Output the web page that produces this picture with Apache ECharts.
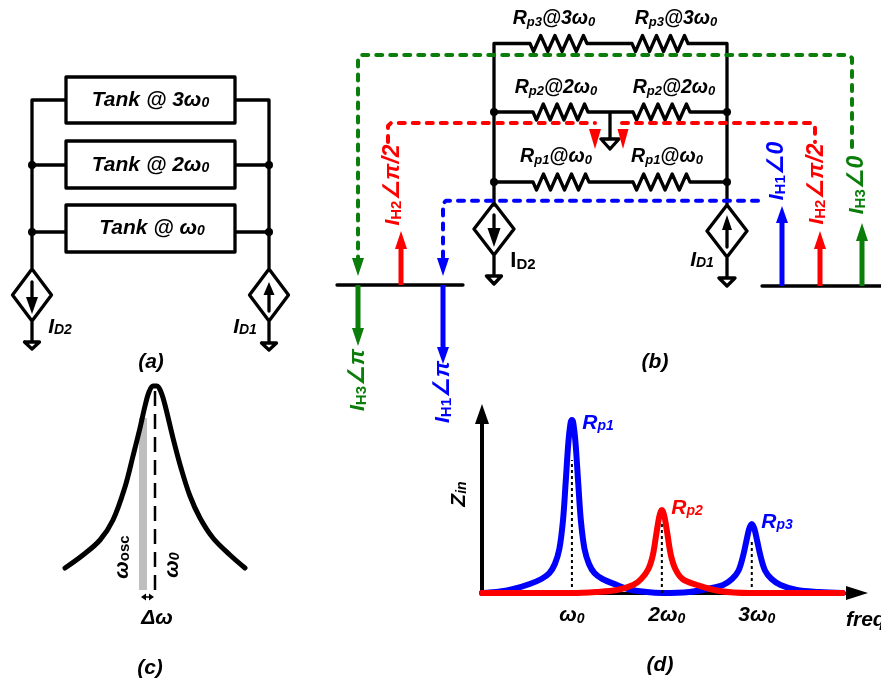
<!DOCTYPE html>
<html><head><meta charset="utf-8">
<style>html,body{margin:0;padding:0;background:#fff}#c{width:881px;height:681px}</style>
<script src="https://cdn.jsdelivr.net/npm/echarts@6/dist/echarts.min.js"></script></head>
<body><div id="c"></div>
<script>
// ---- panel (d): impedance curves [freq/omega0, Zin]
const rp1Rp3Curve=[[0,0],[0.2,1.5],[0.35,4],[0.53,9],[0.66,14],[0.75,20],[0.81,29],[0.86,44],[0.90,72],[0.93,110],[0.96,150],[0.985,170],[1,173],[1.015,170],[1.04,150],[1.07,110],[1.10,72],[1.14,44],[1.19,29],[1.25,20],[1.34,14],[1.50,8],[1.64,3.5],[1.83,1],[2,0],[2.31,1],[2.50,4],[2.68,8],[2.78,14],[2.85,22],[2.90,36],[2.94,52],[2.97,64],[2.99,68],[3,69],[3.01,68],[3.03,64],[3.06,52],[3.10,36],[3.15,22],[3.22,14],[3.32,8],[3.50,3],[3.75,1],[4.01,0]];
const rp2Curve=[[0,0],[1.0,0],[1.27,1],[1.50,3],[1.68,8],[1.77,14],[1.85,24],[1.90,38],[1.94,60],[1.97,76],[1.99,82],[2,83],[2.01,82],[2.03,76],[2.06,60],[2.10,38],[2.15,24],[2.23,14],[2.39,8],[2.64,2],[2.98,0],[4.01,0]];
const harmonicTicks=[1,2,3];
const harmonicLabels=['{m|ω}{s|0}','{g|2ω}{s|0}','{g|3ω}{s|0}'];
const peakDrops=[[1,133],[2,69],[3,52]];
// ---- panel (c): resonance curve [offset from omega0, magnitude]
const tankCurve=[[-90,0],[-72,13],[-55,28],[-42,48],[-30,81],[-22,112],[-15,140],[-10,162],[-6,176],[-2,182],[2,182],[6,176],[10,163],[18,130],[26,100],[35,72],[45,50],[58,30],[75,13],[90,0]];
const omegaOsc=-12, omega0=0;

// ---- schematic geometry (in schematic units)
function resistor(x0,x1,y){const s=(x1-x0)/8,p=[];for(let i=0;i<8;i++)p.push([x0+(i+.5)*s,y+(i%2?-8:8)]);return p;}
function rwire(xa,x0,x1,xb,y){return [[xa,y],[x0,y],...resistor(x0,x1,y),[x1,y],[xb,y]];}
function diamond(cx,t,b,hw){const m=(t+b)/2;return [[cx,t],[cx+hw,m],[cx,b],[cx-hw,m],[cx,t]];}
function ground(cx,t,b,hw){return [[cx-hw,t],[cx+hw,t],[cx,b],[cx-hw,t]];}
function head(cx,tip,base,hw){return [[cx,tip],[cx+hw,base],[cx-hw,base]];}
function box(x0,y0,x1,y1){return [[x0,y0],[x1,y0],[x1,y1],[x0,y1],[x0,y0]];}

const tankWires=[box(66,77,235,123),box(66,141,235,188),box(66,205,235,252),
 [[66,100],[32,100],[32,269]],[[235,100],[269,100],[269,269]],
 [[32,165],[66,165]],[[235,165],[269,165]],[[32,232],[66,232]],[[235,232],[269,232]],
 diamond(32,269,321,19.5),diamond(269,269,321,19.5),
 [[32,321],[32,342]],[[269,321],[269,343]],ground(32,342,349,7.5),ground(269,343,350,7.5),
 [[32,282],[32,300]],[[269,292],[269,311]]];
const rpWires=[
 [[494,205],[494,43.5],[530,43.5],...resistor(530,587,43.5),[587,43.5],[632,43.5],...resistor(632,688,43.5),[688,43.5],[727,43.5],[727,205]],
 rwire(494,533,588,633,112),rwire(633,633,690,727,112),
 rwire(494,533,589,633,182),rwire(633,633,690,727,182),
 diamond(494,203,255,20),diamond(727,205,257,20),
 [[494,255],[494,276]],[[727,257],[727,278]],ground(494,276,284,7.5),ground(727,278,286,8),
 [[494,215],[494,232]],[[727,228],[727,247]],
 [[610,112],[610,139]],ground(610,139,149,9),
 [[337,285],[463,285]],[[762,286],[881,286]]];
const deltaSpan=[[[144,597],[151,597]]];
const junctions=[[32,165],[32,232],[269,165],[269,232],[494,112],[494,182],[727,112],[727,182]];
const blackHeads=[head(32,314,297,6),head(269,282,295,5.5),head(494,247,228,6.5),head(727,215,230,5),
 [[141,597],[146,593.5],[146,600.5]],[[154,597],[149,593.5],[149,600.5]]];
const greenDash=[[[852,147],[852,58],[849,55],[361,55],[358,58],[358,258]]];
const redDash=[[[388,142],[388,126],[391,123],[595,123]],[[622,123],[812,123],[815,126],[815,142]]];
const blueDash=[[[758,200.7],[446,200.7],[443,203.7],[443,258]]];
const greenStems=[[[358,285],[358,330]],[[862,286],[862,240]]];
const redStems=[[[401,285],[401,247]],[[820,286],[820,247]]];
const blueStems=[[[443,285],[443,349]],[[782,286],[782,222]]];
const greenHeads=[head(358,276,258,6),head(358,346,328,6),head(862,223,241,6)];
const redHeads=[head(401,231,249,6),head(820,231,249,6),head(595,149,129,6),head(623,149,129,5.5)];
const blueHeads=[head(443,276,258,6),head(443,364,347,6),head(782,206,223,6)];

// ---- text
const K='#000',G='#0a7d0a',R='#ff0000',B='#0000ff';
const annotations=[
 [150.5,100,'{m|Tank @ 3ω}{s|0}',0,K],[150.5,165,'{m|Tank @ 2ω}{s|0}',0,K],[152,228,'{m|Tank @ ω}{s|0}',0,K],
 [60,327,'{m|I}{s|D2}',0,K],[245,327,'{m|I}{s|D1}',0,K],[151,362,'{c|(a)}',0,K],
 [554,19,'{n|R}{t|p3}{n|@3ω}{t|0}',0,K],[676,19,'{n|R}{t|p3}{n|@3ω}{t|0}',0,K],
 [556,88,'{n|R}{t|p2}{n|@2ω}{t|0}',0,K],[674,88,'{n|R}{t|p2}{n|@2ω}{t|0}',0,K],
 [556,157,'{n|R}{t|p1}{n|@ω}{t|0}',0,K],[667,157,'{n|R}{t|p1}{n|@ω}{t|0}',0,K],
 [523,261,'{u|I}{us|D2}',0,K],[702,260,'{m|I}{s|D1}',0,K],[655,362,'{c|(b)}',0,K],
 [358,380,'{m|I}{h|H3}{a|∠π}',90,G],[443,392,'{m|I}{h|H1}{a|∠π}',90,B],
 [393,185,'{m|I}{h|H2}{a|∠π/2}',90,R],[777,171,'{m|I}{h|H1}{a|∠0}',90,B],
 [817,184,'{m|I}{h|H2}{a|∠π/2}',90,R],[857,185,'{m|I}{h|H3}{a|∠0}',90,G],
 [122,557,'{m|ω}{h|osc}',90,K],[172,565,'{m|ω}{s|0}',90,K],[157,618,'{m|Δω}',0,K],[150,668,'{c|(c)}',0,K],
 [459,494,'{m|Z}{s|in}',90,K],[598,423,'{m|R}{s|p1}',0,B],[687,508,'{m|R}{s|p2}',0,R],[777,522,'{m|R}{s|p3}',0,B],
 [846,620,'{f|freq}',0,K,'left'],[660,665,'{c|(d)}',0,K]];

const F='"Liberation Sans","DejaVu Sans",sans-serif';
const st=(size,extra)=>Object.assign({fontFamily:F,fontWeight:'bold',fontStyle:'italic',fontSize:size,color:'#000'},extra||{});
const rich={m:st(21),g:st(21,{padding:[0,0,0,10]}),s:st(14,{verticalAlign:'bottom'}),n:st(19.5),t:st(13,{verticalAlign:'bottom'}),
 h:st(15,{verticalAlign:'bottom',fontStyle:'normal'}),a:st(23),c:st(21),f:st(21),
 u:st(22,{fontStyle:'normal'}),us:st(15,{fontStyle:'normal',verticalAlign:'bottom'})};

function flat(paths){const d=[];paths.forEach((p,i)=>{if(i)d.push([null,null]);p.forEach(q=>d.push(q));});return d;}
function lines(name,paths,color,width,extra){return {name,type:'line',xAxisIndex:0,yAxisIndex:0,data:flat(paths),showSymbol:false,symbol:'none',silent:true,clip:false,
 lineStyle:Object.assign({color,width,join:'round',cap:'round'},extra||{})};}
function fills(name,polys,color){return {name,type:'custom',xAxisIndex:0,yAxisIndex:0,silent:true,clip:false,z:4,data:polys.map((_,i)=>[i,i]),
 renderItem:(p,api)=>({type:'polygon',shape:{points:polys[p.dataIndex].map(q=>api.coord(q))},style:{fill:color}})};}
function dash(name,paths,color){return Object.assign(lines(name,paths,color,4,{type:[6,8]}),{z:3});}

const option={animation:false,backgroundColor:'#fff',
 grid:[{left:0,top:0,width:881,height:681},{left:482,top:414,width:375,height:179},{left:65,top:384,width:180,height:206}],
 xAxis:[{gridIndex:0,type:'value',min:0,max:881,show:false},
  {gridIndex:1,type:'value',min:0,max:4.17,splitLine:{show:false},axisTick:{show:false},
   axisLine:{show:true,onZero:false,symbol:['none','triangle'],symbolSize:[14,22],lineStyle:{color:'#000',width:3}},
   axisLabel:{customValues:harmonicTicks,margin:12,color:'#000',formatter:v=>harmonicLabels[harmonicTicks.indexOf(v)]||'',rich:rich}},
  {gridIndex:2,type:'value',min:-90,max:90,show:false}],
 yAxis:[{gridIndex:0,type:'value',min:0,max:681,inverse:true,show:false},
  {gridIndex:1,type:'value',min:0,max:179,splitLine:{show:false},axisTick:{show:false},axisLabel:{show:false},
   axisLine:{show:true,onZero:false,symbol:['none','triangle'],symbolSize:[14,20],lineStyle:{color:'#000',width:4}}},
  {gridIndex:2,type:'value',min:-22,max:184,show:false}],
 series:[
  lines('tank wires',tankWires,'#000',3.3),
  lines('rp wires',rpWires,'#000',3.3),
  lines('delta span',deltaSpan,'#000',1.5),
  {name:'junctions',type:'scatter',xAxisIndex:0,yAxisIndex:0,silent:true,symbolSize:8,itemStyle:{color:'#000',opacity:1},data:junctions},
  fills('black heads',blackHeads,'#000'),
  lines('green stems',greenStems,G,5,{cap:'butt'}),lines('red stems',redStems,R,5,{cap:'butt'}),lines('blue stems',blueStems,B,5,{cap:'butt'}),
  dash('green feedback',greenDash,G),dash('red feedback',redDash,R),dash('blue feedback',blueDash,B),
  fills('green heads',greenHeads,G),fills('red heads',redHeads,R),fills('blue heads',blueHeads,B),
  {name:'Rp1/Rp3',type:'line',xAxisIndex:1,yAxisIndex:1,data:rp1Rp3Curve,symbol:'none',smooth:0.35,silent:true,clip:false,z:3,lineStyle:{color:B,width:6,join:'round',cap:'round'}},
  {name:'peak drops',type:'line',xAxisIndex:1,yAxisIndex:1,symbol:'none',silent:true,clip:false,z:4,
   data:flat(peakDrops.map(d=>[[d[0],0],[d[0],d[1]]])),lineStyle:{color:'#000',width:2,type:[3,3]}},
  {name:'Rp2',type:'line',xAxisIndex:1,yAxisIndex:1,data:rp2Curve,symbol:'none',smooth:0.35,silent:true,clip:false,z:5,lineStyle:{color:R,width:6,join:'round',cap:'round'}},
  {name:'omega osc',type:'line',xAxisIndex:2,yAxisIndex:2,data:[[omegaOsc,-22],[omegaOsc,150]],symbol:'none',silent:true,clip:false,z:2,lineStyle:{color:'#bfbfbf',width:8,cap:'butt'}},
  {name:'omega 0',type:'line',xAxisIndex:2,yAxisIndex:2,data:[[omega0,-22],[omega0,184]],symbol:'none',silent:true,clip:false,z:2,lineStyle:{color:'#000',width:2.5,type:[15,8]}},
  {name:'tank response',type:'line',xAxisIndex:2,yAxisIndex:2,data:tankCurve,symbol:'none',smooth:0.35,silent:true,clip:false,z:3,lineStyle:{color:'#000',width:5,cap:'round',join:'round'}},
  {name:'text',type:'scatter',xAxisIndex:0,yAxisIndex:0,silent:true,symbolSize:1,z:10,itemStyle:{color:'transparent',opacity:1},
   data:annotations.map(a=>({value:[a[0],a[1]],label:{show:true,opacity:1,position:'inside',align:a[5]||'center',verticalAlign:'middle',rotate:a[3],color:a[4],formatter:a[2],
    rich:Object.fromEntries(Object.entries(rich).map(([k,v])=>[k,Object.assign({},v,{color:a[4]})]))}}))}
 ]};
echarts.init(document.getElementById('c'),null,{renderer:'canvas'}).setOption(option);
</script></body></html>
